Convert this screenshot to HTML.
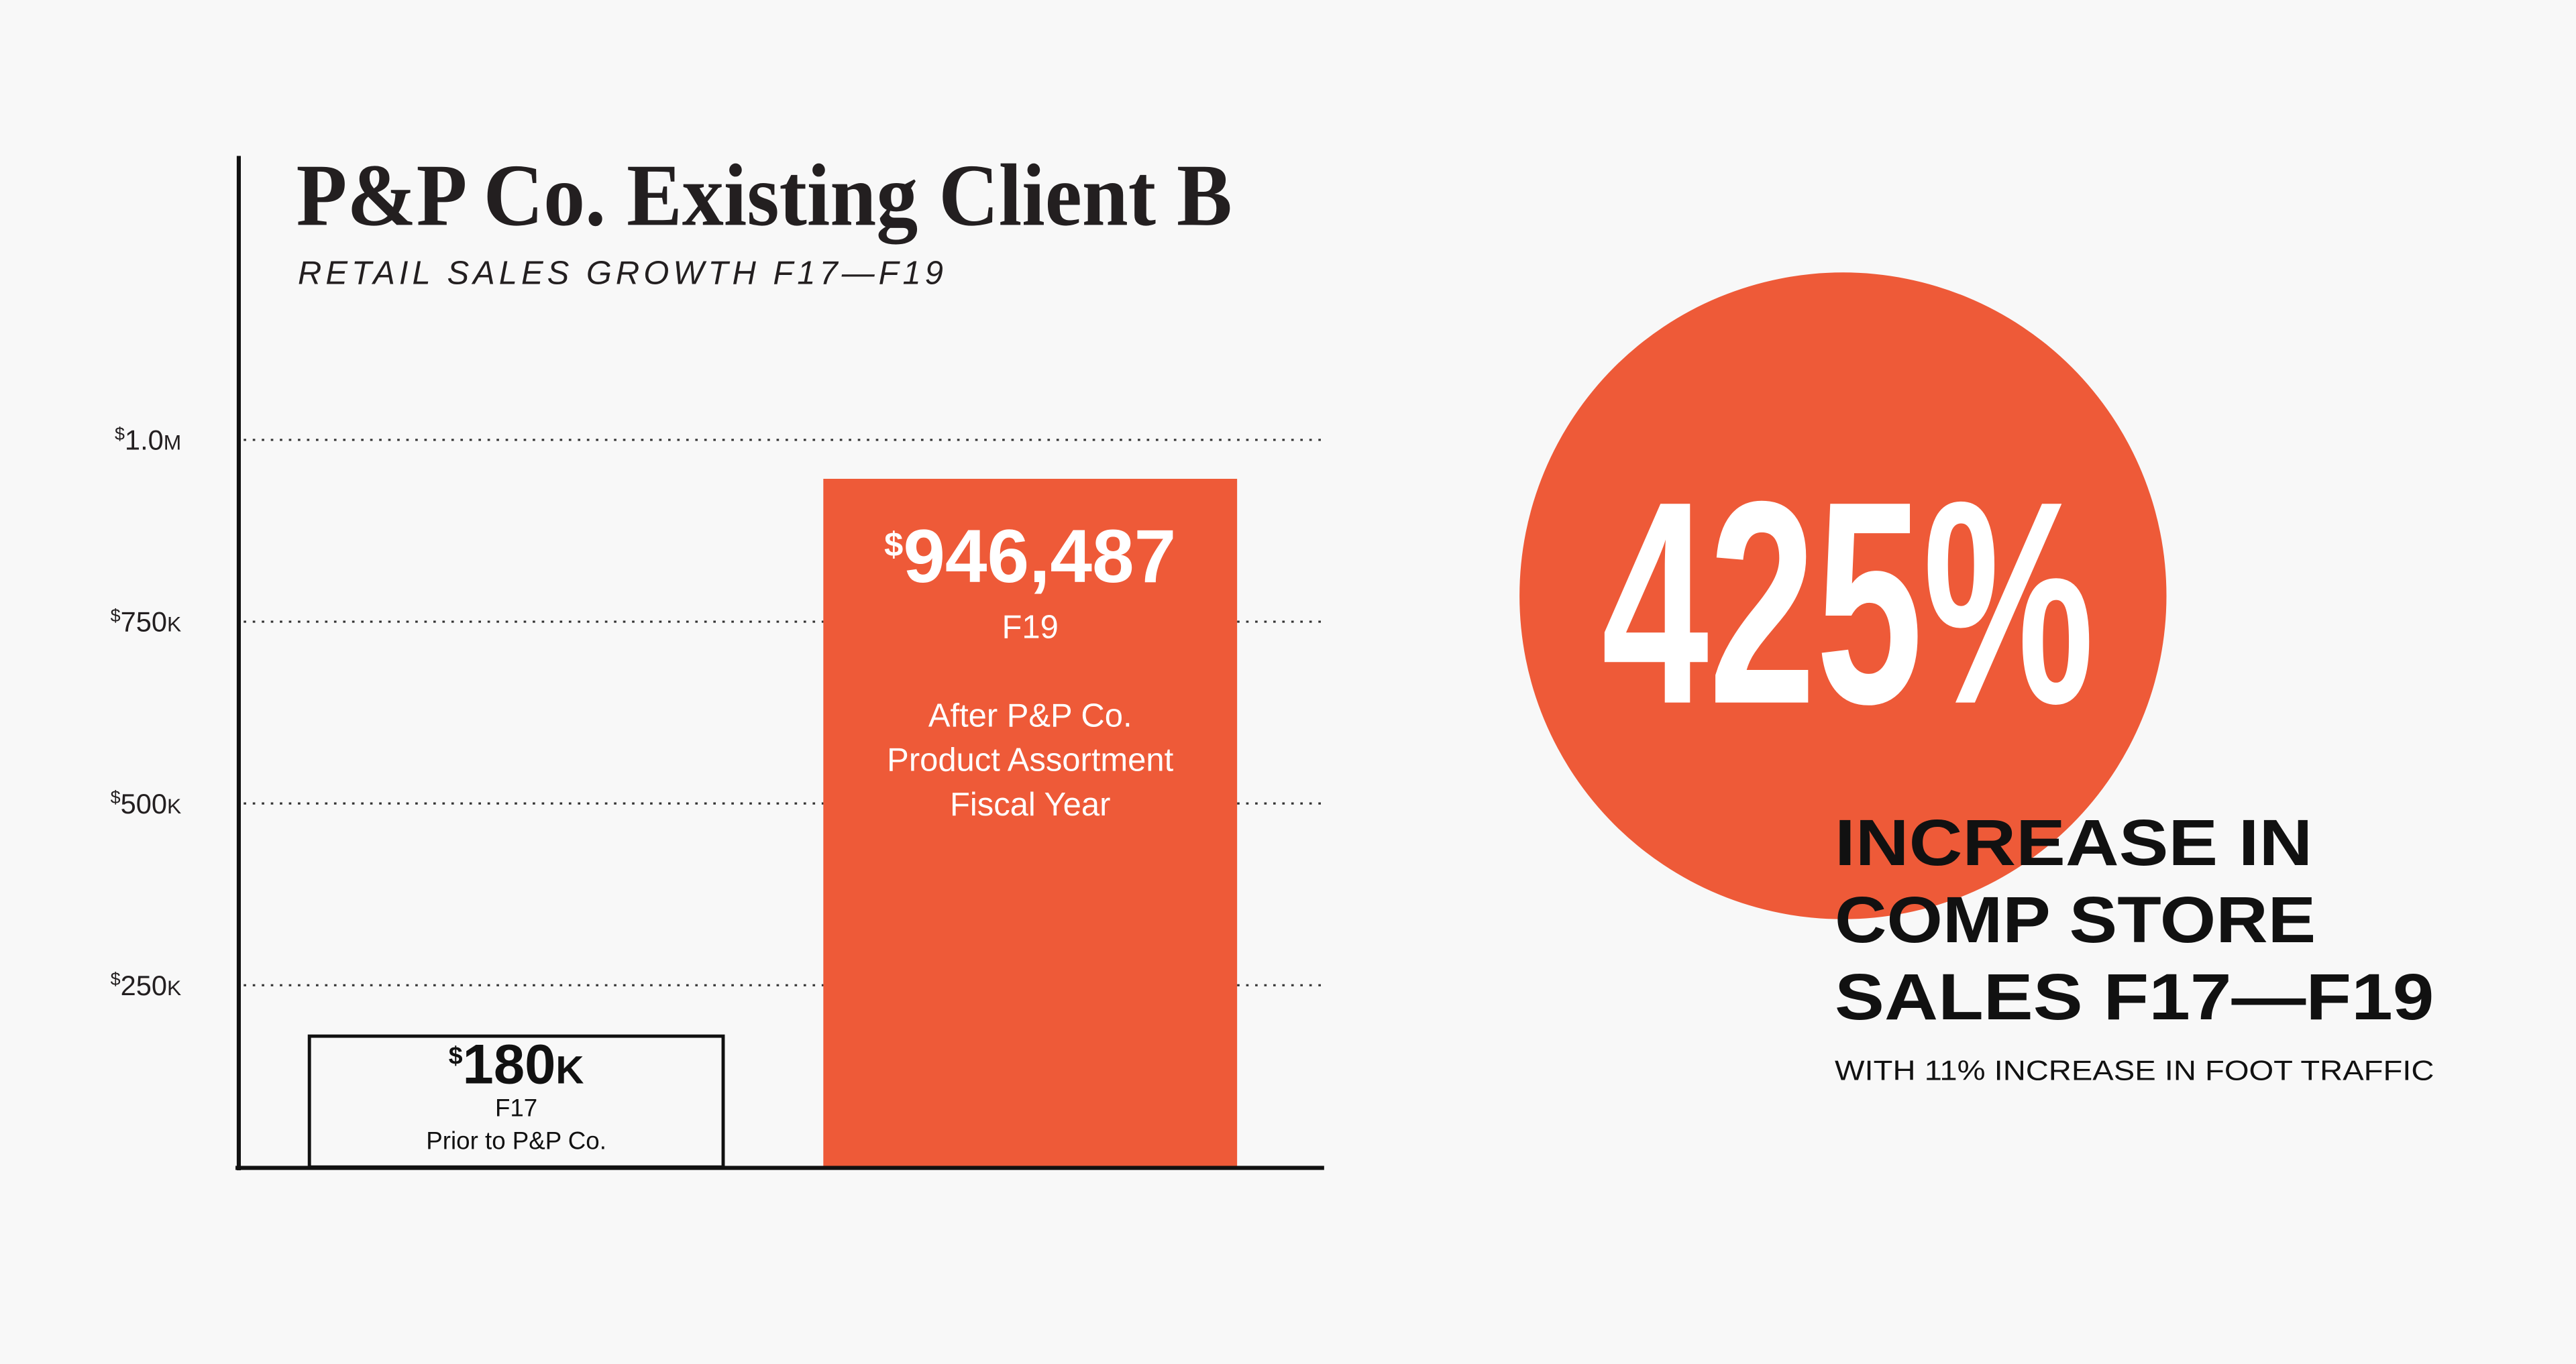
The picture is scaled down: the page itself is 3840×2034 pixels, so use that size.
<!DOCTYPE html>
<html><head><meta charset="utf-8"><style>
html,body{margin:0;padding:0;background:#f8f8f8;}
svg{display:block;}
text{font-family:"Liberation Sans",sans-serif;}
.cond{font-family:"Liberation Sans Narrow","Liberation Sans",sans-serif;font-weight:bold;}
</style></head><body>
<svg id="chart" width="3840" height="2034" viewBox="0 0 1568 831" xmlns="http://www.w3.org/2000/svg">
<rect x="0" y="0" width="1568" height="831" fill="#f8f8f8"/>
<text x="180" y="137" style="font-family:'Liberation Serif',serif" font-weight="bold" font-size="54" fill="#231f20" textLength="570" lengthAdjust="spacingAndGlyphs">P&amp;P Co. Existing Client B</text>
<text x="181" y="173" font-style="italic" font-size="20" fill="#231f20" textLength="396" lengthAdjust="spacing" letter-spacing="3">RETAIL SALES GROWTH F17—F19</text>
<g id="grid"></g>
<g id="ylabels"></g>
<g id="bars"></g>
<line x1="145" y1="95" x2="145" y2="713" stroke="#111" stroke-width="2.5"/>
<line x1="143" y1="711.5" x2="806" y2="711.5" stroke="#111" stroke-width="2.5"/>
<circle cx="1122" cy="363" r="197" fill="#ee5a38"/>
<text class="cond" x="975" y="428" font-size="176" fill="#fff" textLength="300" lengthAdjust="spacingAndGlyphs">425%</text>
<text x="1117" y="527" font-weight="bold" font-size="40" fill="#111" textLength="291" lengthAdjust="spacingAndGlyphs">INCREASE IN</text>
<text x="1117" y="574" font-weight="bold" font-size="40" fill="#111" textLength="293" lengthAdjust="spacingAndGlyphs">COMP STORE</text>
<text x="1117" y="621" font-weight="bold" font-size="40" fill="#111" textLength="365" lengthAdjust="spacingAndGlyphs">SALES F17—F19</text>
<text x="1117" y="658" font-size="17" fill="#111" textLength="365" lengthAdjust="spacingAndGlyphs">WITH 11% INCREASE IN FOOT TRAFFIC</text>
</svg>
<script>
const categories = ["F17", "F19"];
const values = [180000, 946487];
const valueLabels = ["180", "946,487"];
const valueSuffix = ["K", ""];
const subLabels = [["F17", "Prior to P&P Co."], ["F19", "", "After P&P Co.", "Product Assortment", "Fiscal Year"]];
const ticks = [250000, 500000, 750000, 1000000];
const tickLabels = [["250", "K"], ["500", "K"], ["750", "K"], ["1.0", "M"]];

const NS = "http://www.w3.org/2000/svg";
const y0 = 711, yPer = 443 / 1000000;
function yScale(v){ return y0 - v * yPer; }
const barLeft = [188, 501], barW = 252;
function xScale(i){ return barLeft[i]; }
function mk(tag, attrs, parent){ const e = document.createElementNS(NS, tag); for (const k in attrs) e.setAttribute(k, attrs[k]); parent.appendChild(e); return e; }

const grid = document.getElementById("grid");
const yl = document.getElementById("ylabels");
ticks.forEach((t, i) => {
  const y = yScale(t);
  const l = mk("line", {x1:148, x2:806, y1:y, y2:y, stroke:"#333", "stroke-width":1.3, "stroke-dasharray":"1.5 4"}, grid);
  
  
  const tx = mk("text", {x:110, y:y+6, "text-anchor":"end", "font-size":17, fill:"#231f20"}, yl);
  
  
  const s1 = mk("tspan", {"font-size":11, dy:-6}, tx); s1.textContent = "$";
  const s2 = mk("tspan", {dy:6}, tx); s2.textContent = tickLabels[i][0];
  const s3 = mk("tspan", {"font-size":13}, tx); s3.textContent = tickLabels[i][1];
});

const bars = document.getElementById("bars");
values.forEach((v, i) => {
  const x = xScale(i), top = yScale(v);
  const orange = i === 1;
  const r = mk("rect", {x:x, y:top, width:barW, height:y0 - top, fill: orange ? "#ee5a38" : "#f8f8f8", stroke: orange ? "none" : "#111", "stroke-width":2}, bars);
  
  
  const cx = x + barW / 2;
  const col = orange ? "#fff" : "#111";
  const big = orange ? 46 : 34;
  const ly = orange ? top + 63 : y0 - 51;
  const vt = mk("text", {x:cx, y:ly, "text-anchor":"middle", "font-size":big, fill:col, class:"cond"}, bars);
  
  
  const d = mk("tspan", {"font-size":big*0.45, dy:-big*0.35}, vt); d.textContent = "$";
  const n = mk("tspan", {dy:big*0.35}, vt); n.textContent = valueLabels[i];
  if (valueSuffix[i]) { const k = mk("tspan", {"font-size":big*0.7}, vt); k.textContent = valueSuffix[i]; }
  const fs = orange ? 20 : 15, lh = orange ? 27 : 20;
  let sy = orange ? ly + 34 : ly + 20;
  subLabels[i].forEach((s) => {
    if (s) {
      const t = mk("text", {x:cx, y:sy, "text-anchor":"middle", "font-size":fs, fill:col}, bars);
      
      
      t.textContent = s;
    }
    sy += lh;
  });
});
</script>
</body></html>
